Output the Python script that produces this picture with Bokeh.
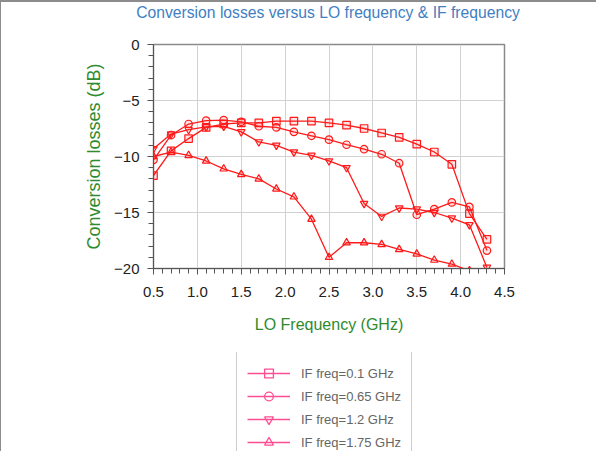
from bokeh.plotting import figure
from bokeh.layouts import column
from bokeh.models import (Legend, LegendItem, FixedTicker, PrintfTickFormatter,
                          ColumnDataSource, Label)
from bokeh.embed import file_html
from bokeh.resources import INLINE

# ---- data ----
lo_freq = [0.5, 0.7, 0.9, 1.1, 1.3, 1.5, 1.7, 1.9, 2.1, 2.3,
           2.5, 2.7, 2.9, 3.1, 3.3, 3.5, 3.7, 3.9, 4.1, 4.3]

loss_if_0p1 = [-11.7, -9.5, -8.4, -7.4, -7.1, -7.0, -7.0, -6.85, -6.85, -6.85,
               -7.0, -7.2, -7.5, -7.9, -8.3, -8.9, -9.6, -10.7, -15.1, -17.4]
loss_if_0p65 = [-10.3, -8.1, -7.1, -6.8, -6.75, -6.9, -7.3, -7.4, -7.8, -8.15,
                -8.5, -8.95, -9.35, -9.8, -10.6, -15.2, -14.7, -14.1, -14.5, -18.4]
loss_if_1p2 = [-9.3, -8.0, -7.6, -7.35, -7.3, -7.8, -8.7, -9.0, -9.6, -9.9,
               -10.4, -11.0, -14.2, -15.35, -14.6, -14.7, -15.0, -15.5, -16.1, -19.9]
lo_freq_1p75 = [0.5, 0.7, 0.9, 1.1, 1.3, 1.5, 1.7, 1.9, 2.1, 2.3,
                2.5, 2.7, 2.9, 3.1, 3.3, 3.5, 3.7, 3.9, 4.1]
loss_if_1p75 = [-10.0, -9.6, -9.9, -10.4, -11.1, -11.6, -12.0, -12.9, -13.6, -15.6,
                -19.0, -17.7, -17.7, -17.85, -18.3, -18.7, -19.25, -19.6, -20.2]

series_names = ["IF freq=0.1 GHz", "IF freq=0.65 GHz", "IF freq=1.2 GHz", "IF freq=1.75 GHz"]
series_markers = ["square", "circle", "inverted_triangle", "triangle"]
series_x = [lo_freq, lo_freq, lo_freq, lo_freq_1p75]
series_y = [loss_if_0p1, loss_if_0p65, loss_if_1p2, loss_if_1p75]

x_ticks = [0.5, 1.0, 1.5, 2.0, 2.5, 3.0, 3.5, 4.0, 4.5]
x_minor = [round(0.5 + 0.1 * i, 1) for i in range(41)]
y_ticks = [-20, -15, -10, -5, 0]
y_minor = list(range(-20, 1))

title_text = "Conversion losses versus LO frequency & IF frequency"
x_label = "LO Frequency (GHz)"
y_label = "Conversion losses (dB)"

RED = "#ff1a1a"
PINK = "#ff4d94"
FONT = "Liberation Sans"
W = 595
NAN = float("nan")


def blank(height):
    f = figure(width=W, height=height, x_range=(0, 1), y_range=(0, 1),
               output_backend="svg", toolbar_location=None, min_border=0,
               x_axis_type=None, y_axis_type=None)
    f.outline_line_color = None
    f.xgrid.visible = False
    f.ygrid.visible = False
    f.frame_align = False
    return f


# ---- title strip ----
pt = blank(30)
pt.add_layout(Label(x=326.5, y=20, x_units="screen", y_units="screen",
                    text=title_text, text_align="center", text_baseline="middle",
                    text_color="#3f80c2", text_font_size="15.7px", text_font=FONT))

# ---- main chart ----
p = figure(width=W, height=320, x_range=(0.5, 4.5), y_range=(-20, 0),
           output_backend="svg", toolbar_location=None,
           min_border_left=152, min_border_right=92,
           min_border_top=12, min_border_bottom=84)
p.frame_align = False

p.outline_line_color = "#8a8a8a"
p.outline_line_width = 1.5

for ax in (p.xaxis[0], p.yaxis[0]):
    ax.axis_line_color = "#555555"
    ax.major_tick_line_color = "#555555"
    ax.minor_tick_line_color = "#555555"
    ax.major_tick_in = 0
    ax.major_tick_out = 6
    ax.minor_tick_in = 0
    ax.minor_tick_out = 5
    ax.major_label_text_font = FONT
    ax.major_label_text_font_size = "15px"
    ax.major_label_text_color = "#222222"
    ax.axis_label_text_font = FONT
    ax.axis_label_text_font_style = "normal"
    ax.axis_label_text_color = "#2e8b2e"

p.xaxis.ticker = FixedTicker(ticks=x_ticks, minor_ticks=x_minor)
p.xaxis.formatter = PrintfTickFormatter(format="%.1f")
p.xaxis.major_label_standoff = 12
p.xaxis.axis_label = x_label
p.xaxis.axis_label_text_font_size = "16px"
p.xaxis.axis_label_standoff = 16

p.yaxis.ticker = FixedTicker(ticks=y_ticks, minor_ticks=y_minor)
p.yaxis.major_label_standoff = 8
p.yaxis.axis_label = y_label
p.yaxis.axis_label_text_font_size = "18px"
p.yaxis.axis_label_standoff = 7

p.xgrid.grid_line_color = "#d2d2d2"
p.ygrid.grid_line_color = "#d2d2d2"

# ---- legend strip ----
pl = blank(99)

items = []
for name, mk, xs, ys in zip(series_names, series_markers, series_x, series_y):
    src = ColumnDataSource(dict(x=xs, y=ys))
    p.line("x", "y", source=src, line_color=RED, line_width=1.3)
    p.scatter("x", "y", source=src, marker=mk, size=7.5, line_color=RED,
              line_width=1.2, fill_color=RED, fill_alpha=0.12)
    # legend swatches (pink, as in the reference legend); no visible data
    swatch = ColumnDataSource(dict(x=[NAN], y=[NAN]))
    lr = pl.line("x", "y", source=swatch, line_color=PINK, line_width=1.3)
    sr = pl.scatter("x", "y", source=swatch, marker=mk, size=7, line_color=PINK,
                    fill_color=None, line_width=1.3)
    items.append(LegendItem(label=name, renderers=[lr, sr]))

legend = Legend(items=items, location=(235, -13),
                label_text_font=FONT, label_text_font_size="13px",
                label_text_color="#666666", glyph_width=43, glyph_height=22,
                label_height=22, label_standoff=11, spacing=1, padding=10,
                margin=0, border_line_color="#999999", border_line_width=1,
                background_fill_alpha=1.0)
pl.add_layout(legend, "center")

layout = column(pt, p, pl, spacing=0,
                styles={"border-top": "2px solid #8c8c8c", "border-left": "1px solid #8c8c8c"})

open("out.html", "w").write(file_html(layout, INLINE))
